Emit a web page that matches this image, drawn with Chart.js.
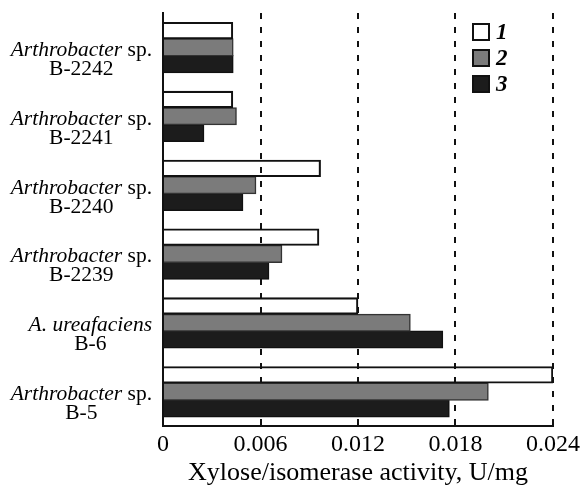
<!DOCTYPE html>
<html>
<head>
<meta charset="utf-8">
<script src="https://cdn.jsdelivr.net/npm/chart.js@4"></script>
<style>
  html, body { margin: 0; padding: 0; background: #fff; }
  #wrap { width: 586px; height: 489px; }
</style>
</head>
<body>
<div id="wrap"><canvas id="chart"></canvas></div>
<script>
// strain labels, top to bottom
const species = ['Arthrobacter', 'Arthrobacter', 'Arthrobacter', 'Arthrobacter', 'A. ureafaciens', 'Arthrobacter'];
const speciesSuffix = [' sp.', ' sp.', ' sp.', ' sp.', '', ' sp.'];
const strains = ['B-2242', 'B-2241', 'B-2240', 'B-2239', 'B-6', 'B-5'];
const categories = strains.map((s, i) => species[i] + speciesSuffix[i] + ' ' + s);

// xylose isomerase activity, U/mg
const series1 = [0.0043, 0.0043, 0.0097, 0.0096, 0.0120, 0.0240];
const series2 = [0.0043, 0.0045, 0.0057, 0.0073, 0.0152, 0.0200];
const series3 = [0.0043, 0.0025, 0.0049, 0.0065, 0.0172, 0.0176];
const seriesLabels = ['1', '2', '3'];
const xTicks = [0, 0.006, 0.012, 0.018, 0.024];

const serif = "'Liberation Serif', 'DejaVu Serif', serif";

// two-line strain labels with italic genus, drawn left of the axis
const strainLabels = {
  id: 'strainLabels',
  afterDraw(chart) {
    const ctx = chart.ctx;
    const y = chart.scales.y;
    const right = 152;
    ctx.save();
    ctx.fillStyle = '#000';
    ctx.textBaseline = 'alphabetic';
    categories.forEach((c, i) => {
      const cy = y.getPixelForValue(i);
      ctx.font = 'italic 21.5px ' + serif;
      const w1 = ctx.measureText(species[i]).width;
      ctx.font = '21.5px ' + serif;
      const w2 = ctx.measureText(speciesSuffix[i]).width;
      const left = right - w1 - w2;
      ctx.textAlign = 'left';
      ctx.font = 'italic 21.5px ' + serif;
      ctx.fillText(species[i], left, cy + 8.5);
      ctx.font = '21.5px ' + serif;
      ctx.fillText(speciesSuffix[i], left + w1, cy + 8.5);
      ctx.textAlign = 'center';
      ctx.fillText(strains[i], left + (w1 + w2) / 2, cy + 27.5);
    });
    ctx.restore();
  }
};

// vertical legend in the upper right of the plot
const boxLegend = {
  id: 'boxLegend',
  afterDraw(chart) {
    const ctx = chart.ctx;
    ctx.save();
    chart.data.datasets.forEach((ds, i) => {
      const x = 473, y = 24 + i * 26;
      ctx.fillStyle = ds.backgroundColor === 'rgba(255,255,255,0)' ? '#fff' : ds.backgroundColor;
      ctx.fillRect(x, y, 16, 16);
      ctx.lineWidth = 2;
      ctx.strokeStyle = '#111';
      ctx.strokeRect(x, y, 16, 16);
      ctx.fillStyle = '#000';
      ctx.font = 'italic bold 23px ' + serif;
      ctx.textAlign = 'left';
      ctx.textBaseline = 'middle';
      ctx.fillText(ds.label, x + 23, y + 9);
    });
    ctx.restore();
  }
};

new Chart(document.getElementById('chart'), {
  type: 'bar',
  data: {
    labels: categories,
    datasets: [
      { label: seriesLabels[0], data: series1, backgroundColor: 'rgba(255,255,255,0)', borderColor: '#111', borderWidth: 1.5, inflateAmount: 0.3 },
      { label: seriesLabels[1], data: series2, backgroundColor: '#7b7b7b', borderColor: '#333', borderWidth: 1.5, inflateAmount: 0.7 },
      { label: seriesLabels[2], data: series3, backgroundColor: '#1c1c1c', borderColor: '#111', borderWidth: 1.5, inflateAmount: 0.7 }
    ]
  },
  options: {
    indexAxis: 'y',
    responsive: true,
    maintainAspectRatio: false,
    animation: false,
    layout: { padding: { top: 13, right: 33, left: 0, bottom: 0 } },
    datasets: { bar: { categoryPercentage: 0.73, barPercentage: 1 } },
    plugins: {
      legend: { display: false },
      tooltip: { enabled: false }
    },
    scales: {
      x: {
        min: 0,
        max: 0.024,
        afterBuildTicks: (scale) => { scale.ticks = xTicks.map(v => ({ value: v })); },
        afterFit: (scale) => { scale.height = 63; },
        ticks: {
          color: '#000',
          padding: 4,
          font: { family: serif, size: 24 },
          callback: (v) => v === 0 ? '0' : v.toFixed(3)
        },
        grid: {
          drawTicks: false,
          color: (c) => c.tick && c.tick.value === 0 ? 'rgba(0,0,0,0)' : '#111',
          lineWidth: 2
        },
        border: { display: true, color: '#111', width: 2, dash: [6, 8] },
        title: {
          display: true,
          text: 'Xylose/isomerase activity, U/mg',
          color: '#000',
          font: { family: serif, size: 26 },
          padding: { top: 0, bottom: 0 }
        }
      },
      y: {
        afterFit: (scale) => { scale.width = 163; },
        ticks: { display: false },
        grid: { display: false },
        border: { display: true, color: '#111', width: 2 }
      }
    }
  },
  plugins: [strainLabels, boxLegend]
});
</script>
</body>
</html>
